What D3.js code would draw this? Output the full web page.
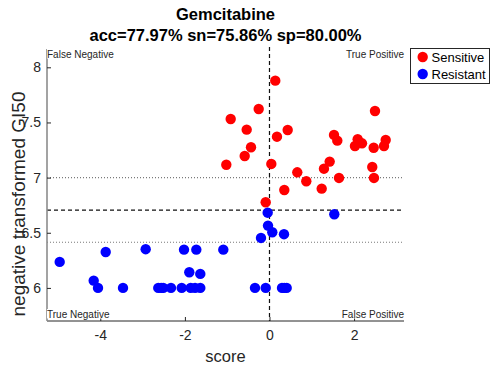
<!DOCTYPE html>
<html>
<head>
<meta charset="utf-8">
<script src="https://cdn.jsdelivr.net/npm/d3@7"></script>
<style>
  html, body { margin: 0; padding: 0; background: #fff; }
  svg { display: block; font-family: Helvetica, Arial, "Liberation Sans", sans-serif; }
</style>
</head>
<body>
<svg id="chart" width="492" height="369"></svg>
<script>
// Gemcitabine: prediction score vs. negative transformed GI50
const sensitiveScore = [0.137, -0.255, -0.917, -0.539, 0.177, -0.437, -0.586, -1.021, 0.043, 0.430,
  2.494, 1.525, 1.603, 2.085, 2.021, 2.187, 2.463, 2.747, 2.707, 1.423,
  1.288, 2.430, 0.657, 0.870, 1.643, 2.470, 1.234, 0.350, -0.090];
const sensitiveGI50 = [7.879, 7.622, 7.531, 7.435, 7.371, 7.275, 7.196, 7.117, 7.124, 7.432,
  7.604, 7.387, 7.335, 7.348, 7.287, 7.311, 7.271, 7.341, 7.287, 7.145,
  7.081, 7.096, 7.048, 6.967, 6.997, 6.997, 6.900, 6.888, 6.777];
const resistantScore = [-0.043, 1.532, -0.035, 0.066, 0.343, -0.201, -0.343, -0.090, 0.296, 0.407,
  0.350, -4.960, -3.872, -4.156, -4.054, -3.463, -2.927, -2.629, -2.511, -2.329,
  -2.076, -2.021, -1.896, -1.863, -1.730, -1.636, -1.636, -1.092, -2.560, -1.760];
const resistantGI50 = [6.682, 6.668, 6.565, 6.505, 6.487, 6.453, 6.000, 6.000, 6.000, 6.000,
  6.000, 6.236, 6.326, 6.066, 6.000, 6.000, 6.351, 6.000, 6.000, 6.000,
  6.000, 6.347, 6.142, 6.000, 6.347, 6.127, 6.000, 6.347, 6.000, 6.000];

const xTicks = [-4, -2, 0, 2];
const yTicks = [6, 6.5, 7, 7.5, 8];
const scoreCut = 0;          // classification threshold on score
const gi50Cut = 6.705;       // sensitive / resistant split
const gi50Bands = [6.414, 7]; // dotted reference levels

const titleLines = ["Gemcitabine", "acc=77.97% sn=75.86% sp=80.00%"];
const seriesNames = ["Sensitive", "Resistant"];
const seriesColors = ["#ff0000", "#0000ff"];

const svg = d3.select("#chart");
const plot = { left: 47, right: 404, top: 49, bottom: 321 };

const x = d3.scaleLinear().domain([-5.26, 3.18]).range([plot.left, plot.right]);
const y = d3.scaleLinear().domain([5.70, 8.166]).range([plot.bottom, plot.top]);

// reference lines
svg.selectAll("line.band").data(gi50Bands).join("line")
  .attr("class", "band")
  .attr("x1", plot.left).attr("x2", plot.right)
  .attr("y1", d => y(d)).attr("y2", d => y(d))
  .attr("stroke", "#7a7a7a").attr("stroke-width", 1.2)
  .attr("stroke-dasharray", "1,2");

svg.append("line")
  .attr("x1", plot.left).attr("x2", plot.right)
  .attr("y1", y(gi50Cut)).attr("y2", y(gi50Cut))
  .attr("stroke", "#111").attr("stroke-width", 1.2)
  .attr("stroke-dasharray", "4,3");

svg.append("line")
  .attr("x1", x(scoreCut)).attr("x2", x(scoreCut))
  .attr("y1", plot.top - 2).attr("y2", plot.bottom)
  .attr("stroke", "#111").attr("stroke-width", 1.2)
  .attr("stroke-dasharray", "4,3");

// axes
const xAxis = d3.axisBottom(x).tickValues(xTicks).tickSize(-4).tickPadding(9)
  .tickFormat(d3.format("d"));
const gx = svg.append("g").attr("transform", `translate(0,${plot.bottom})`).call(xAxis);
gx.select(".domain").attr("stroke", "#262626").attr("d", `M${plot.left},0H${plot.right}`);
gx.selectAll(".tick line").attr("stroke", "#262626");
gx.selectAll(".tick text").attr("fill", "#262626").style("font-size", "14px")
  .text(d => d < 0 ? "-" + Math.abs(d) : d);

const yAxis = d3.axisLeft(y).tickValues(yTicks).tickSize(-4).tickPadding(6)
  .tickFormat(d => d3.format("")(d));
const gy = svg.append("g").attr("transform", `translate(${plot.left},0)`).call(yAxis);
gy.select(".domain").attr("stroke", "#8c8c8c").attr("stroke-width", 1.6)
  .attr("d", `M0,${plot.bottom}V${plot.top}`);
gy.selectAll(".tick line").attr("stroke", "#262626");
gy.selectAll(".tick text").attr("fill", "#262626").style("font-size", "14px");

// corner annotations
const corners = [
  { t: "False Negative", x: plot.left, y: 58, a: "start" },
  { t: "True Positive", x: plot.right, y: 58, a: "end" },
  { t: "True Negative", x: plot.left, y: 318, a: "start" },
  { t: "False Positive", x: plot.right, y: 318, a: "end" }
];
corners.forEach(c => {
  const t = svg.append("text").attr("x", c.x).attr("y", c.y)
    .attr("text-anchor", c.a).attr("fill", "#262626")
    .style("font-size", "10px").text(c.t);
  const b = t.node().getBBox();
  svg.insert("rect", () => t.node())
    .attr("x", b.x).attr("y", b.y).attr("width", b.width).attr("height", b.height - 1.5)
    .attr("fill", "#fff");
});

// points
const sens = sensitiveScore.map((s, i) => ({ s, g: sensitiveGI50[i] }));
const res = resistantScore.map((s, i) => ({ s, g: resistantGI50[i] }));

svg.append("g").selectAll("circle").data(sens).join("circle")
  .attr("cx", d => x(d.s)).attr("cy", d => y(d.g)).attr("r", 5.2)
  .attr("fill", seriesColors[0]);
svg.append("g").selectAll("circle").data(res).join("circle")
  .attr("cx", d => x(d.s)).attr("cy", d => y(d.g)).attr("r", 5.2)
  .attr("fill", seriesColors[1]);

// titles
svg.selectAll("text.title").data(titleLines).join("text")
  .attr("class", "title")
  .attr("x", 225.5).attr("y", (d, i) => 20 + i * 20.5)
  .attr("text-anchor", "middle").attr("fill", "#000")
  .style("font-size", "16.5px").style("font-weight", "bold")
  .text(d => d);

svg.append("text").attr("x", 225.5).attr("y", 362)
  .attr("text-anchor", "middle").attr("fill", "#262626")
  .style("font-size", "16.5px").text("score");

svg.append("text")
  .attr("transform", `translate(25,204) rotate(-90)`)
  .attr("text-anchor", "middle").attr("fill", "#262626")
  .style("font-size", "19px").text("negative transformed GI50");

// legend
const lg = svg.append("g");
lg.append("rect").attr("x", 410.5).attr("y", 48.5).attr("width", 79).attr("height", 35)
  .attr("fill", "#fff").attr("stroke", "#262626").attr("stroke-width", 1);
seriesNames.forEach((n, i) => {
  lg.append("circle").attr("cx", 422.7).attr("cy", 57 + i * 17).attr("r", 5.2)
    .attr("fill", seriesColors[i]);
  lg.append("text").attr("x", 431.5).attr("y", 61.5 + i * 17)
    .attr("fill", "#000").style("font-size", "13px").text(n);
});
</script>
</body>
</html>
